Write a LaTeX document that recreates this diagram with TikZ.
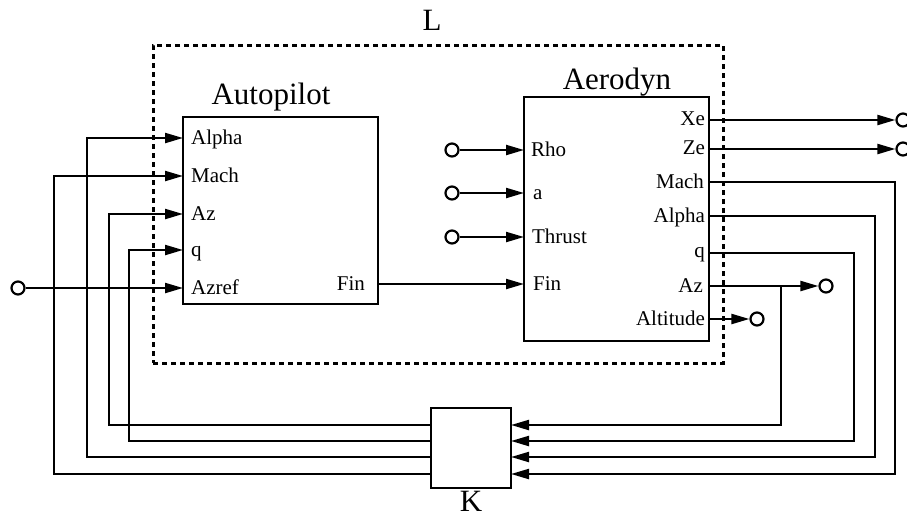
\documentclass[tikz,border=0pt]{standalone}
\usepackage{fontspec}
\setmainfont{Liberation Serif}
\usetikzlibrary{arrows.meta}
\begin{document}
\begin{tikzpicture}[x=1pt,y=-1pt,
  line width=2.2pt,
  box/.style={draw,line width=2.2pt,inner sep=0pt,fill=none},
  lbox/.style={draw,line width=3pt,dash pattern=on 5pt off 4pt,inner sep=0pt},
  port/.style={circle,draw,fill=white,minimum size=13pt,inner sep=0pt,line width=2.2pt},
  lab/.style={inner sep=0pt,font=\fontsize{21}{24}\selectfont},
  ttl/.style={inner sep=0pt,anchor=base,font=\fontsize{31}{36}\selectfont},
  arr/.style={-{Triangle[length=18pt,width=10pt]}},
  wire/.style={line width=2.2pt}
]
\useasboundingbox (0,0) rectangle (907,517);

% dashed boundary L
\node[lbox,minimum width=570pt,minimum height=318pt] (Lbox) at (438,204) {};
\node[ttl] (Ltxt) at (432,30) {L};

% blocks
\node[box,minimum width=195pt,minimum height=187pt] (ap) at (280.5,210.5) {};
\node[ttl] (aptxt) at (271,104) {Autopilot};
\node[box,minimum width=185pt,minimum height=244pt] (ae) at (616.5,219) {};
\node[ttl] (aetxt) at (617,89) {Aerodyn};
\node[box,minimum width=80pt,minimum height=80pt] (K) at (471,448) {};
\node[ttl] (Ktxt) at (471,511) {K};

% Autopilot ports
\coordinate (apAlpha) at (183,138);
\coordinate (apMach)  at (183,176);
\coordinate (apAz)    at (183,214);
\coordinate (apq)     at (183,250);
\coordinate (apAzref) at (183,288);
\coordinate (apFin)   at (378,284);
\node[lab,anchor=base west] (lapAlpha) at (190,144) {Alpha};
\node[lab,anchor=base west] (lapMach)  at (190,182) {Mach};
\node[lab,anchor=base west] (lapAz)    at (190,220) {Az};
\node[lab,anchor=base west] (lapq)     at (190,256) {q};
\node[lab,anchor=base west] (lapAzref) at (190,294) {Azref};
\node[lab,anchor=base east] (lapFin)   at (366,290) {Fin};

% Aerodyn ports
\coordinate (aeRho)    at (524,150);
\coordinate (aea)      at (524,193);
\coordinate (aeThrust) at (524,237);
\coordinate (aeFin)    at (524,284);
\coordinate (aeXe)     at (709,120);
\coordinate (aeZe)     at (709,149);
\coordinate (aeMach)   at (709,182);
\coordinate (aeAlpha)  at (709,216);
\coordinate (aeq)      at (709,253);
\coordinate (aeAz)     at (709,286);
\coordinate (aeAlt)    at (709,319);
\node[lab,anchor=base west] (laeRho)    at (530,156) {Rho};
\node[lab,anchor=base west] (laea)      at (532,199) {a};
\node[lab,anchor=base west] (laeThrust) at (531,243) {Thrust};
\node[lab,anchor=base west] (laeFin)    at (532,290) {Fin};
\node[lab,anchor=base east] (laeXe)     at (706,125) {Xe};
\node[lab,anchor=base east] (laeZe)     at (706,154) {Ze};
\node[lab,anchor=base east] (laeMach)   at (705,188) {Mach};
\node[lab,anchor=base east] (laeAlpha)  at (706,222) {Alpha};
\node[lab,anchor=base east] (laeq)      at (706,257) {q};
\node[lab,anchor=base east] (laeAz)     at (704,292) {Az};
\node[lab,anchor=base east] (laeAlt)    at (706,325) {Altitude};

% K ports
\coordinate (kRAz)    at (511,425);
\coordinate (kRq)     at (511,441);
\coordinate (kRAlpha) at (511,457);
\coordinate (kRMach)  at (511,474);
\coordinate (kLAz)    at (431,425);
\coordinate (kLq)     at (431,441);
\coordinate (kLAlpha) at (431,457);
\coordinate (kLMach)  at (431,474);

% routing corners
\coordinate (vAz)    at (109,214);
\coordinate (vq)     at (129,250);
\coordinate (vAlpha) at (87,138);
\coordinate (vMach)  at (54,176);
\coordinate (rMach)  at (895,474);
\coordinate (rAlpha) at (875,457);
\coordinate (rq)     at (854,441);
\coordinate (azb)    at (781,286);

% external ports (circles)
\node[port] (cAzref) at (18,288) {};
\node[port] (cRho)    at (452,150) {};
\node[port] (ca)      at (452,193) {};
\node[port] (cThrust) at (452,237) {};
\node[port] (cXe)     at (903,120) {};
\node[port] (cZe)     at (903,149) {};
\node[port] (cAz)     at (826,286) {};
\node[port] (cAlt)    at (757,319) {};

% feedback wires from K to Autopilot
\draw[wire,arr] (kLAz) -| (vAz) -- (apAz);
\draw[wire,arr] (kLq) -| (vq) -- (apq);
\draw[wire,arr] (kLAlpha) -| (vAlpha) -- (apAlpha);
\draw[wire,arr] (kLMach) -| (vMach) -- (apMach);

% reference input
\draw[wire,arr] (cAzref) -- (apAzref);

% Fin
\draw[wire,arr] (apFin) -- (aeFin);

% Aerodyn inputs
\draw[wire,arr] (cRho) -- (aeRho);
\draw[wire,arr] (ca) -- (aea);
\draw[wire,arr] (cThrust) -- (aeThrust);

% Aerodyn outputs
\draw[wire,arr] (aeXe) -- (cXe);
\draw[wire,arr] (aeZe) -- (cZe);
\draw[wire,arr] (aeAz) -- (cAz);
\draw[wire,arr] (aeAlt) -- (cAlt);
\draw[wire,arr] (aeMach) -| (rMach) -- (kRMach);
\draw[wire,arr] (aeAlpha) -| (rAlpha) -- (kRAlpha);
\draw[wire,arr] (aeq) -| (rq) -- (kRq);
\draw[wire,arr] (azb) |- (kRAz);
\end{tikzpicture}
\end{document}
